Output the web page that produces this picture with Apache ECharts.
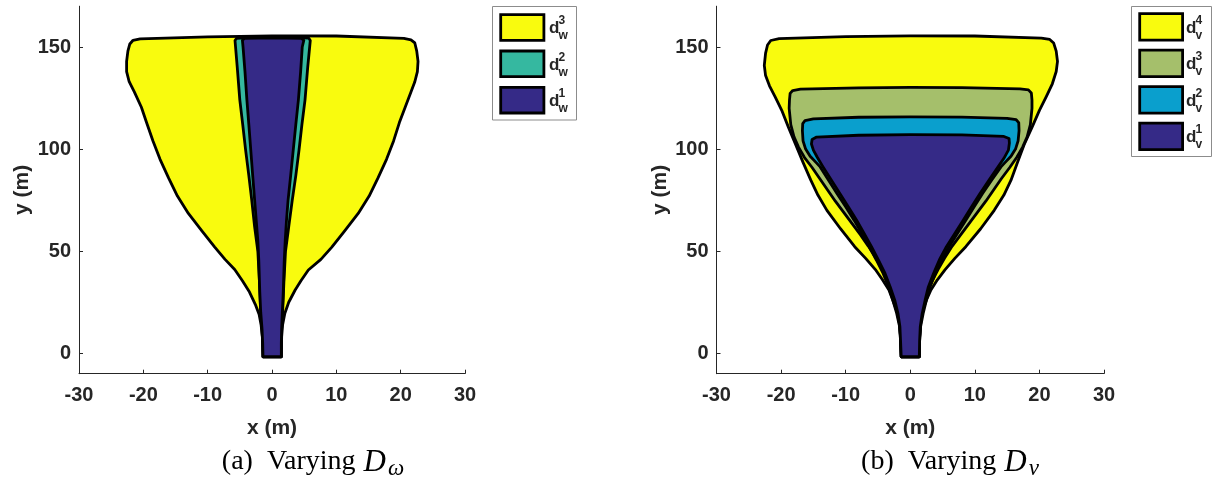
<!DOCTYPE html>
<html>
<head>
<meta charset="utf-8">
<script src="https://cdn.jsdelivr.net/npm/echarts@6/dist/echarts.min.js"></script>
<style>
  html, body { margin: 0; padding: 0; background: #ffffff; }
  #chart { width: 1212px; height: 489px; }
</style>
</head>
<body>
<div id="chart"></div>
<script>
// Axis ticks (both panels share the same ranges)
const xTicks = [-30, -20, -10, 0, 10, 20, 30];
const yTicks = [0, 50, 100, 150];

// Panel (a): reachable regions for varying D_w — closed outlines as [x, y] in metres
const dw3 = [
  [-1.4, -1.7], [-1.5, 8], [-1.7, 14], [-2.0, 19], [-2.6, 24], [-3.5, 30], [-4.6, 35.5],
  [-5.8, 41], [-7.3, 46], [-8.9, 52], [-10.9, 60], [-13.0, 68.5], [-14.7, 77], [-16.1, 86],
  [-17.4, 95], [-18.5, 104], [-19.5, 113], [-20.3, 120.5], [-21.4, 128], [-22.2, 133],
  [-22.6, 138], [-22.6, 143], [-22.4, 148], [-22.1, 151.5], [-21.6, 153.3], [-20.5, 154],
  [-10, 155], [0, 155.5], [10, 155.4], [20.5, 154.2], [21.6, 153.5], [22.2, 152], [22.5, 148],
  [22.7, 143], [22.6, 138], [22.2, 133], [21.6, 128], [20.7, 120.5], [19.8, 113], [18.9, 104],
  [17.8, 95], [16.5, 86], [15.1, 77], [13.4, 68.5], [11.3, 60], [9.3, 52], [7.6, 46],
  [5.65, 40.8], [4.5, 35.5], [3.6, 31], [2.6, 25], [2.0, 19.6], [1.65, 14], [1.5, 8], [1.45, -1.7]
];
const dw2 = [
  [-1.4, -1.7], [-1.45, 5], [-1.55, 12], [-1.75, 20], [-1.95, 35], [-2.2, 50], [-2.7, 62],
  [-3.15, 75], [-3.6, 87], [-4.1, 99.5], [-4.55, 112], [-5.0, 124], [-5.4, 140], [-5.75, 153.2],
  [-5.5, 154.3], [-3, 154.7], [0, 154.8], [3, 154.7], [5.7, 154.4], [5.95, 153.2], [5.55, 140],
  [5.13, 124], [4.65, 112], [4.2, 99.5], [3.7, 87], [3.15, 75], [2.6, 62], [2.1, 50],
  [1.85, 35], [1.65, 20], [1.5, 12], [1.45, 5], [1.45, -1.7]
];
const dw1 = [
  [-1.4, -1.7], [-1.45, 5], [-1.55, 12], [-1.75, 20], [-1.9, 30], [-2.05, 45], [-2.2, 55],
  [-2.45, 65], [-2.7, 75], [-3.0, 87], [-3.3, 99.5], [-3.6, 112], [-3.9, 124], [-4.2, 138],
  [-4.5, 150], [-4.6, 153.3], [-4.3, 154.2], [0, 154.5], [4.6, 154.2], [4.95, 153.3], [4.7, 150],
  [4.45, 138], [4.1, 124], [3.7, 112], [3.3, 99.5], [2.9, 87], [2.5, 75], [2.25, 65], [2.05, 55],
  [1.9, 45], [1.75, 30], [1.6, 20], [1.5, 12], [1.45, 5], [1.45, -1.7]
];

// Panel (b): reachable regions for varying D_v
const dv4 = [
  [-1.4, -1.7], [-1.5, 8], [-1.7, 15], [-2.1, 21], [-2.7, 26], [-3.3, 31], [-4.3, 36], [-5.4, 41],
  [-6.9, 46.5], [-8.6, 52.2], [-10.8, 61], [-12.9, 70], [-14.3, 77.5], [-15.4, 84.8], [-16.6, 93.5],
  [-17.8, 102.7], [-18.9, 111], [-19.9, 119], [-20.9, 125.5], [-21.8, 131], [-22.4, 136],
  [-22.6, 141], [-22.4, 147], [-22.1, 151], [-21.6, 153.2], [-20.3, 154.1], [-10, 155.1],
  [0, 155.5], [10, 155.4], [20.3, 154.4], [21.6, 153.7], [22.2, 152], [22.6, 148], [22.8, 143],
  [22.6, 138], [22.0, 132], [21.1, 126], [20.0, 119], [18.9, 111], [17.7, 102.7], [16.6, 93.5],
  [15.6, 84.8], [14.5, 77.5], [13.0, 70], [10.9, 61], [8.6, 52.2], [6.9, 46.5], [5.4, 41],
  [4.2, 36], [3.2, 31], [2.5, 26], [1.9, 21], [1.6, 15], [1.45, 8], [1.4, -1.7]
];
const dv3 = [
  [-1.4, -1.7], [-1.5, 8], [-1.65, 15], [-1.8, 20], [-2.2, 25], [-2.7, 30], [-3.4, 35.5],
  [-4.3, 41], [-5.3, 46.5], [-6.5, 52.5], [-7.7, 58], [-9.0, 63.5], [-10.3, 69], [-11.6, 74.5],
  [-12.8, 80], [-14.0, 85.5], [-15.2, 91], [-16.4, 96], [-17.3, 101], [-18.0, 106], [-18.5, 112],
  [-18.75, 120], [-18.7, 124], [-18.6, 127.3], [-18.2, 128.7], [-17, 129.4],
  [-8, 130], [0, 130.2], [8, 130.1], [17, 129.5], [18.3, 129], [18.75, 127.5], [18.85, 124],
  [18.85, 120], [18.6, 112], [18.1, 106], [17.4, 101], [16.5, 96], [15.4, 91], [14.1, 85.5],
  [12.9, 80], [11.7, 74.5], [10.4, 69], [9.1, 63.5], [7.8, 58], [6.5, 52.5], [5.3, 46.5],
  [4.3, 41], [3.4, 35.5], [2.7, 30], [2.2, 25], [1.8, 20], [1.6, 15], [1.45, 8], [1.4, -1.7]
];
const dv2 = [
  [-1.4, -1.7], [-1.5, 6], [-1.65, 13], [-2.1, 19.5], [-2.7, 26], [-3.35, 32.5], [-4.2, 39.1],
  [-5.25, 45.7], [-6.35, 52.2], [-7.5, 58.7], [-8.7, 65.2], [-10.0, 71.8], [-11.35, 78.3],
  [-12.65, 84.8], [-13.95, 91.3], [-14.6, 93.5], [-15.5, 96.5], [-16.2, 100], [-16.6, 104],
  [-16.7, 109], [-16.65, 112.5], [-16.3, 113.9], [-15, 114.8], [-8, 115.6], [0, 115.8], [8, 115.7],
  [15, 115.1], [16.4, 114.4], [16.8, 113], [16.85, 109], [16.7, 104], [16.3, 100], [15.6, 96.5],
  [14.7, 93.5], [14.05, 91.3], [12.6, 84.8], [11.2, 78.3], [9.9, 71.8], [8.6, 65.2], [7.3, 58.7],
  [6.0, 52.2], [4.85, 45.7], [3.9, 39.1], [3.05, 32.5], [2.5, 26], [2.0, 19.5], [1.6, 13],
  [1.45, 6], [1.4, -1.7]
];
const dv1 = [
  [-1.4, -1.7], [-1.5, 6], [-1.6, 13], [-1.9, 19.5], [-2.4, 26], [-3.1, 32.5], [-3.9, 39.1],
  [-4.9, 45.5], [-6.0, 52.2], [-7.1, 58.5], [-8.3, 65.2], [-9.6, 71.8], [-10.9, 78.3],
  [-12.2, 84.8], [-13.5, 91.3], [-14.4, 96], [-15.0, 99.5], [-15.3, 102.5], [-15.2, 104.7],
  [-14.5, 105.9], [-8, 106.8], [0, 107.1], [8, 107], [14.5, 106.2], [15.3, 105.2], [15.35, 103],
  [15.2, 99.5], [14.5, 95.5], [13.6, 91.3], [12.2, 84.8], [10.8, 78.3], [9.5, 71.8], [8.2, 65.2],
  [6.9, 58.7], [5.6, 52.2], [4.5, 45.7], [3.6, 39.1], [2.8, 32.5], [2.3, 26], [1.85, 19.5],
  [1.55, 13], [1.45, 6], [1.4, -1.7]
];

// Legend entries (drawn back to front, listed top to bottom in the legend)
const namesA = ['d_w^3', 'd_w^2', 'd_w^1'];
const supA = ['3', '2', '1'];
const subA = 'w';
const colorsA = ['#F9FB0E', '#35B8A0', '#352A87'];
const shapesA = [dw3, dw2, dw1];

const namesB = ['d_v^4', 'd_v^3', 'd_v^2', 'd_v^1'];
const supB = ['4', '3', '2', '1'];
const subB = 'v';
const colorsB = ['#F9FB0E', '#A5BF6B', '#0A9FCD', '#352A87'];
const shapesB = [dv4, dv3, dv2, dv1];

const TICK_FONT = { fontFamily: 'Liberation Sans', fontWeight: 'bold', fontSize: 20, color: '#262626' };
const AXIS_COLOR = '#262626';
const OUTLINE_W = 2.8;

function regionSeries(name, pts, color, idx) {
  return {
    type: 'custom',
    name: name,
    xAxisIndex: idx,
    yAxisIndex: idx,
    data: pts,
    encode: { x: 0, y: 1 },
    silent: true,
    renderItem: function (params, api) {
      if (params.dataIndex !== 0) return null;
      const points = pts.map(function (p) { return api.coord(p); });
      return {
        type: 'polygon',
        shape: { points: points },
        style: { fill: color, stroke: '#000000', lineWidth: OUTLINE_W, lineJoin: 'round' }
      };
    }
  };
}

function xAxisFor(idx) {
  return {
    gridIndex: idx, type: 'value', min: -30, max: 30, interval: 10,
    name: 'x (m)', nameLocation: 'middle', nameGap: 44,
    nameTextStyle: { fontFamily: 'Liberation Sans', fontWeight: 'bold', fontSize: 21, color: '#262626' },
    axisLine: { show: true, onZero: false, lineStyle: { color: AXIS_COLOR, width: 1 } },
    axisTick: { show: true, inside: true, length: 4, lineStyle: { color: AXIS_COLOR, width: 1 } },
    axisLabel: Object.assign({ margin: 12 }, TICK_FONT),
    splitLine: { show: false }
  };
}

function yAxisFor(idx) {
  return {
    gridIndex: idx, type: 'value', min: -10, max: 170,
    name: 'y (m)', nameLocation: 'middle', nameGap: 46,
    nameTextStyle: { fontFamily: 'Liberation Sans', fontWeight: 'bold', fontSize: 21, color: '#262626' },
    axisLine: { show: true, onZero: false, lineStyle: { color: AXIS_COLOR, width: 1 } },
    axisTick: { show: true, inside: true, length: 4, customValues: yTicks, lineStyle: { color: AXIS_COLOR, width: 1 } },
    axisLabel: Object.assign({ margin: 8, customValues: yTicks }, TICK_FONT),
    splitLine: { show: false }
  };
}

// Boxed legend with stacked super/subscripts next to each swatch
function legendGraphic(box, sw, labelX, scriptX, sups, sub, colors) {
  const els = [{
    type: 'rect', silent: true,
    shape: { x: box.x, y: box.y, width: box.w, height: box.h },
    style: { fill: '#ffffff', stroke: '#8c8c8c', lineWidth: 1 }
  }];
  sups.forEach(function (s, i) {
    const top = sw.y + i * sw.pitch;
    const cy = top + sw.h / 2;
    els.push({
      type: 'rect', silent: true,
      shape: { x: sw.x + 1.4, y: top + 1.4, width: sw.w - 2.8, height: sw.h - 2.8 },
      style: { fill: colors[i], stroke: '#000000', lineWidth: 2.8 }
    });
    els.push({ type: 'text', silent: true, x: labelX, y: cy + 1,
      style: { text: 'd', fontFamily: 'Liberation Sans', fontWeight: 'bold', fontSize: 17, fill: '#262626', align: 'left', verticalAlign: 'middle' } });
    els.push({ type: 'text', silent: true, x: scriptX, y: cy - 6.5,
      style: { text: s, fontFamily: 'Liberation Sans', fontWeight: 'bold', fontSize: 12, fill: '#262626', align: 'left', verticalAlign: 'middle' } });
    els.push({ type: 'text', silent: true, x: scriptX, y: cy + 8.5,
      style: { text: sub, fontFamily: 'Liberation Sans', fontWeight: 'bold', fontSize: 12, fill: '#262626', align: 'left', verticalAlign: 'middle' } });
  });
  return els;
}

function caption(x, y, label, sub) {
  const base = { fontFamily: 'Liberation Serif', fontSize: 28, fill: '#000000', verticalAlign: 'top', lineHeight: 33 };
  return {
    type: 'text', silent: true, x: x, y: y,
    style: {
      text: '{p|' + label + '}{w|Varying}{i|D}{s|' + sub + '}',
      align: 'center', verticalAlign: 'middle',
      rich: {
        p: Object.assign({ padding: [0, 14, 0, 0] }, base),
        w: Object.assign({ padding: [0, 8, 0, 0] }, base),
        i: Object.assign({}, base, { fontStyle: 'italic', fontSize: 31, padding: [0, 1, 0, 0] }),
        s: { fontFamily: 'Liberation Serif', fontStyle: 'italic', fontSize: 23, fill: '#000000', verticalAlign: 'bottom', lineHeight: 22, padding: [0, 0, 0, 1] }
      }
    }
  };
}

const chart = echarts.init(document.getElementById('chart'), null, { renderer: 'canvas' });

const series = [];
shapesA.forEach(function (pts, i) { series.push(regionSeries(namesA[i], pts, colorsA[i], 0)); });
shapesB.forEach(function (pts, i) { series.push(regionSeries(namesB[i], pts, colorsB[i], 1)); });

chart.setOption({
  animation: false,
  backgroundColor: '#ffffff',
  grid: [
    { left: 79, top: 6.2, width: 386, height: 367.5, containLabel: false },
    { left: 716.5, top: 6.2, width: 387.5, height: 367.5, containLabel: false }
  ],
  xAxis: [xAxisFor(0), xAxisFor(1)],
  yAxis: [yAxisFor(0), yAxisFor(1)],
  series: series,
  graphic: [].concat(
    legendGraphic({ x: 492.5, y: 6.5, w: 84, h: 113.5 }, { x: 499.3, y: 13.3, w: 46, h: 28.5, pitch: 36.3 },
      549, 558.5, supA, subA, colorsA),
    legendGraphic({ x: 1131.5, y: 6.5, w: 80, h: 150 }, { x: 1138.3, y: 12.3, w: 45.7, h: 29.3, pitch: 36.45 },
      1186, 1195.5, supB, subB, colorsB),
    [caption(313, 464, '(a)', 'ω'), caption(950, 464, '(b)', 'v')]
  )
});
</script>
</body>
</html>
